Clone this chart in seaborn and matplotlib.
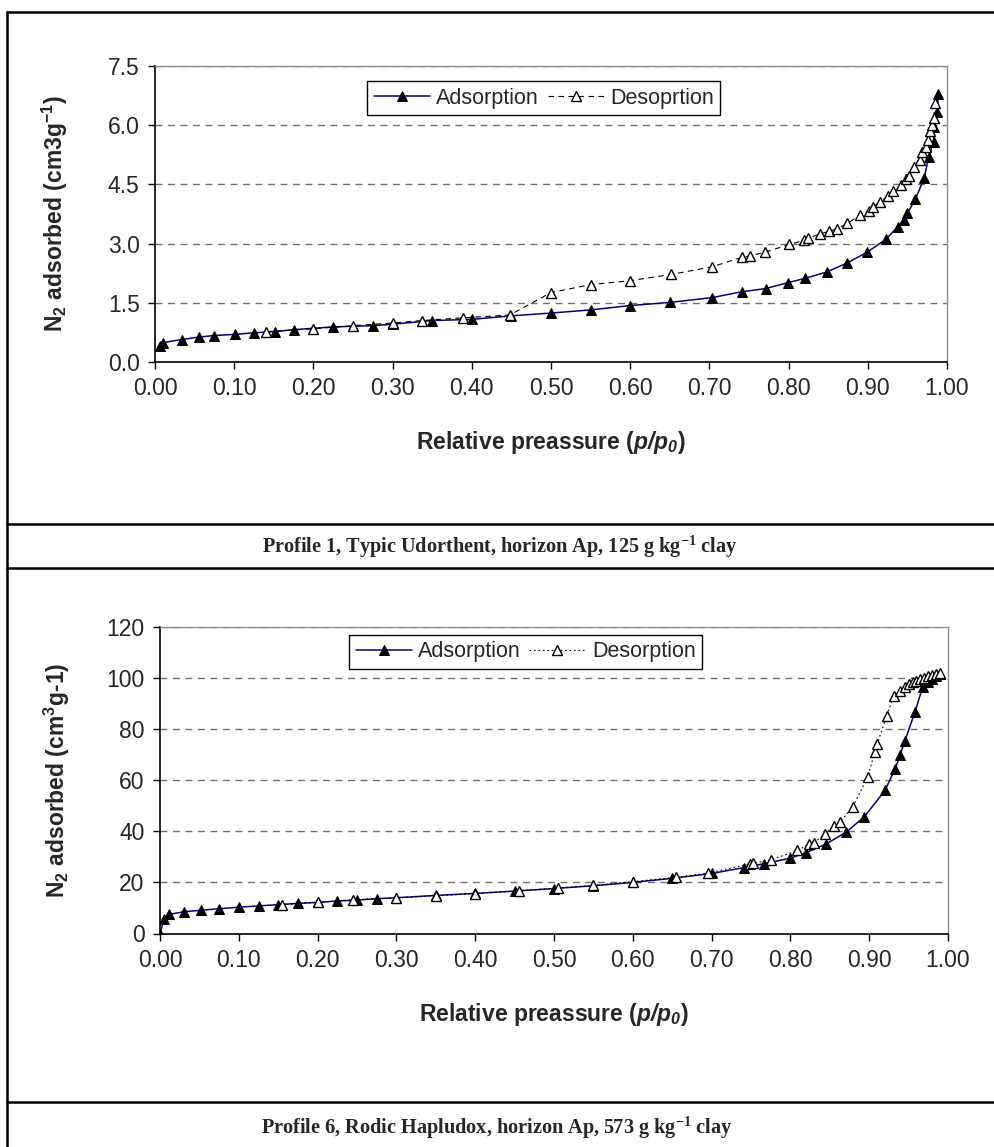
import matplotlib
matplotlib.use("Agg")
import matplotlib.pyplot as plt
from matplotlib.lines import Line2D
from matplotlib.ticker import MultipleLocator, FormatStrFormatter
import seaborn as sns

# Profile 1 - adsorption (filled) and desorption (open)
p1_ads_x = [0.006, 0.010, 0.034, 0.055, 0.074, 0.101, 0.125, 0.151, 0.176, 0.225,
            0.275, 0.301, 0.350, 0.400, 0.450, 0.500, 0.550, 0.600, 0.650, 0.703,
            0.741, 0.771, 0.799, 0.821, 0.848, 0.874, 0.899, 0.923, 0.938, 0.946,
            0.950, 0.960, 0.971, 0.977, 0.983, 0.984, 0.988, 0.989]
p1_ads_y = [0.41, 0.49, 0.57, 0.63, 0.67, 0.70, 0.74, 0.77, 0.82, 0.89,
            0.92, 0.96, 1.05, 1.08, 1.17, 1.24, 1.32, 1.43, 1.51, 1.63,
            1.78, 1.86, 2.01, 2.12, 2.28, 2.51, 2.78, 3.11, 3.43, 3.60,
            3.77, 4.12, 4.65, 5.20, 5.58, 5.96, 6.34, 6.79]
p1_des_x = [0.140, 0.200, 0.250, 0.301, 0.337, 0.389, 0.448, 0.500, 0.550, 0.600,
            0.652, 0.703, 0.741, 0.751, 0.770, 0.801, 0.820, 0.824, 0.840, 0.851,
            0.861, 0.874, 0.890, 0.901, 0.906, 0.915, 0.925, 0.932, 0.942, 0.948,
            0.952, 0.958, 0.966, 0.969, 0.973, 0.976, 0.978, 0.981, 0.983, 0.985]
p1_des_y = [0.77, 0.84, 0.92, 0.99, 1.05, 1.12, 1.19, 1.76, 1.96, 2.06,
            2.22, 2.41, 2.65, 2.69, 2.78, 2.98, 3.08, 3.13, 3.25, 3.31,
            3.37, 3.51, 3.72, 3.83, 3.92, 4.05, 4.20, 4.33, 4.48, 4.63,
            4.71, 4.95, 5.12, 5.32, 5.44, 5.62, 5.85, 6.00, 6.17, 6.55]

# Profile 6
p6_ads_x = [0.000, 0.005, 0.012, 0.030, 0.052, 0.075, 0.100, 0.125, 0.150, 0.175,
            0.200, 0.225, 0.250, 0.275, 0.300, 0.350, 0.400, 0.450, 0.500, 0.550,
            0.600, 0.650, 0.700, 0.741, 0.766, 0.800, 0.820, 0.845, 0.871, 0.894,
            0.920, 0.933, 0.939, 0.945, 0.958, 0.968, 0.975, 0.980, 0.985, 0.990]
p6_ads_y = [0.0, 5.5, 7.5, 8.5, 9.1, 9.7, 10.3, 10.8, 11.3, 11.8,
            12.2, 12.7, 13.1, 13.6, 14.0, 14.9, 15.7, 16.6, 17.6, 18.7,
            20.0, 21.6, 23.5, 25.8, 27.3, 29.5, 31.7, 35.0, 39.7, 45.8,
            56.0, 64.5, 69.7, 75.2, 86.6, 96.7, 98.5, 99.7, 100.8, 101.6]
p6_des_x = [0.155, 0.200, 0.245, 0.300, 0.350, 0.400, 0.455, 0.505, 0.550, 0.600,
            0.655, 0.695, 0.749, 0.753, 0.775, 0.809, 0.824, 0.830, 0.844, 0.855,
            0.863, 0.879, 0.898, 0.907, 0.910, 0.922, 0.931, 0.939, 0.945, 0.950,
            0.955, 0.960, 0.965, 0.970, 0.975, 0.980, 0.985, 0.990]
p6_des_y = [11.2, 12.2, 13.2, 14.0, 14.8, 15.6, 16.7, 17.8, 18.8, 20.3,
            22.0, 23.6, 27.3, 27.5, 28.8, 32.5, 35.0, 35.6, 39.0, 42.2,
            43.7, 49.5, 61.2, 70.9, 74.2, 85.0, 92.9, 94.8, 96.5, 97.5,
            98.3, 99.0, 99.6, 100.2, 100.7, 101.2, 101.6, 102.0]

W, H = 995, 1147
FS = 16.5

sns.set_style("white")
plt.rcParams["font.family"] = ["Liberation Sans", "DejaVu Sans"]
plt.rcParams["mathtext.default"] = "regular"
plt.rcParams["mathtext.fontset"] = "custom"
# only used for the p/p0 part of the x label
plt.rcParams["mathtext.rm"] = "Liberation Sans:italic:bold"

fig = plt.figure(figsize=(W / 100, H / 100), dpi=100)


def px_axes(left, top, right, bottom):
    return fig.add_axes([left / W, 1 - bottom / H, (right - left) / W, (bottom - top) / H])


def style_axes(ax, ymax, ystep, yfmt):
    ax.set_xlim(0, 1)
    ax.set_ylim(0, ymax)
    ax.xaxis.set_major_locator(MultipleLocator(0.1))
    ax.xaxis.set_major_formatter(FormatStrFormatter("%.2f"))
    ax.yaxis.set_major_locator(MultipleLocator(ystep))
    ax.yaxis.set_major_formatter(FormatStrFormatter(yfmt))
    ax.tick_params(direction="out", length=5, width=1, color="black",
                   labelsize=FS, bottom=True, left=True, pad=6)
    for y in range(1, int(round(ymax / ystep)) + 1):
        ax.axhline(y * ystep, color="#707070", lw=1, ls=(0, (5, 4)), zorder=0)
    for side in ["left", "bottom"]:
        ax.spines[side].set_color("black")
        ax.spines[side].set_linewidth(1.2)
    for side in ["top", "right"]:
        ax.spines[side].set_color("#8c8c8c")
        ax.spines[side].set_linewidth(1)


def draw_panel(ax, ads_x, ads_y, des_x, des_y, des_ls, des_label):
    sns.lineplot(x=ads_x, y=ads_y, ax=ax, estimator=None, color="#000080", lw=1.1,
                 marker="^", markersize=7, markerfacecolor="black",
                 markeredgecolor="black", label="Adsorption", zorder=3)
    sns.lineplot(x=des_x, y=des_y, ax=ax, estimator=None, color="black", lw=0.8,
                 linestyle=des_ls, marker="^", markersize=7, markerfacecolor="white",
                 markeredgecolor="black", markeredgewidth=1, label=des_label, zorder=4)


def add_legend(ax, anchor):
    leg = ax.legend(loc="upper center", bbox_to_anchor=anchor, ncol=2, fontsize=15.5,
                    frameon=True, fancybox=False, edgecolor="black", framealpha=1,
                    handlelength=2.6, columnspacing=0.4, handletextpad=0.3,
                    borderpad=0.3, borderaxespad=0, numpoints=1)
    leg.get_frame().set_linewidth(1)


XLABEL = "Relative preassure ($\\mathrm{p/p_0}$)"

# Panel 1
ax1 = px_axes(155, 66, 947, 362)
draw_panel(ax1, p1_ads_x, p1_ads_y, p1_des_x, p1_des_y, (0, (5, 4)), "Desoprtion")
style_axes(ax1, 7.5, 1.5, "%.1f")
ax1.set_xlabel(XLABEL, fontsize=FS, fontweight="bold")
ax1.set_ylabel("N$_2$ adsorbed (cm3g$^{-1}$)", fontsize=FS, fontweight="bold")
ax1.xaxis.set_label_coords(0.5, -0.225)
ax1.yaxis.set_label_coords(-0.107, 0.5)
add_legend(ax1, (0.491, 0.948))

# Panel 2
ax2 = px_axes(160, 627, 948, 933.5)
draw_panel(ax2, p6_ads_x, p6_ads_y, p6_des_x, p6_des_y, (0, (1.5, 2.5)), "Desorption")
style_axes(ax2, 120, 20, "%d")
ax2.set_xlabel(XLABEL, fontsize=FS, fontweight="bold")
ax2.set_ylabel("N$_2$ adsorbed (cm$^3$g-1)", fontsize=FS, fontweight="bold")
ax2.xaxis.set_label_coords(0.5, -0.22)
ax2.yaxis.set_label_coords(-0.112, 0.5)
add_legend(ax2, (0.464, 0.975))

# Captions
cap_font = dict(family=["Liberation Serif", "DejaVu Serif"], fontweight="bold",
                fontsize=14.6, ha="center", va="center")
fig.text(500 / W, 1 - 547 / H, "Profile 1, Typic Udorthent, horizon Ap, 125 g kg$^{-1}$ clay", **cap_font)
fig.text(497 / W, 1 - 1128 / H, "Profile 6, Rodic Hapludox, horizon Ap, 573 g kg$^{-1}$ clay", **cap_font)

# Table-like frame lines
lw = 1.8
fig.add_artist(Line2D([7 / W, 1], [1 - 12 / H] * 2, color="black", lw=lw))
fig.add_artist(Line2D([7 / W] * 2, [0, 1 - 12 / H], color="black", lw=lw))
for yy in [524, 568, 1102]:
    fig.add_artist(Line2D([7 / W, 1], [1 - yy / H] * 2, color="black", lw=lw))

fig.savefig("out.png", dpi=100)
